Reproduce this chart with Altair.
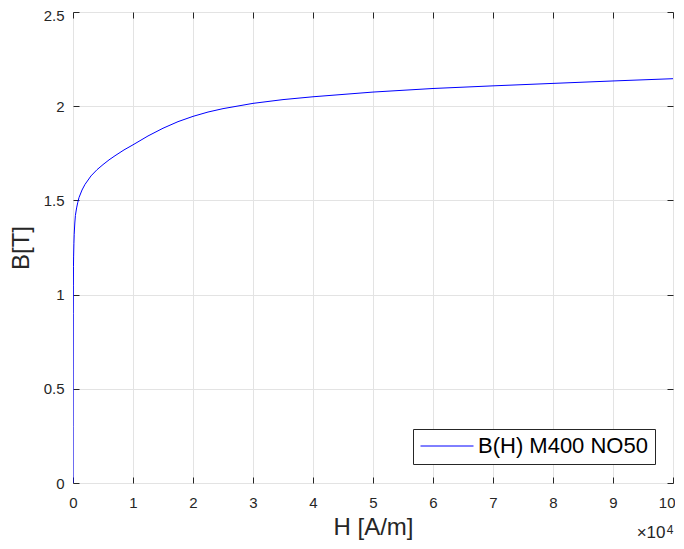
import altair as alt
import pandas as pd

H = [0, 10, 20, 40, 60, 80, 100, 150, 200, 300, 400, 600, 800, 1000, 1500, 2000,
     3000, 4000, 5000, 6000, 7000, 8500, 10000, 12500, 15000, 17500, 20000, 22500,
     25000, 30000, 35000, 40000, 50000, 60000, 70000, 80000, 90000, 100000]
B = [0, 0.3, 0.6, 0.9, 1.05, 1.15, 1.2, 1.27, 1.32, 1.38, 1.42, 1.46, 1.49, 1.515,
     1.555, 1.585, 1.63, 1.663, 1.69, 1.715, 1.737, 1.768, 1.795, 1.842, 1.883,
     1.918, 1.946, 1.969, 1.987, 2.015, 2.035, 2.05, 2.075, 2.094, 2.108, 2.121,
     2.134, 2.146]
series = ["B(H) M400 NO50"]
x_ticks = [0, 10000, 20000, 30000, 40000, 50000, 60000, 70000, 80000, 90000, 100000]
y_ticks = [0, 0.5, 1, 1.5, 2, 2.5]

df = pd.DataFrame({"H": H, "B": B, "name": series[0]})

FONT = "Liberation Sans"
AX = "#262626"
GRID = "#e3e3e3"

xscale = alt.Scale(domain=[0, 100000], nice=False, zero=False)
yscale = alt.Scale(domain=[0, 2.5], nice=False, zero=False)

base = alt.Chart(df)

main = base.mark_line(strokeWidth=1, clip=True).encode(
    x=alt.X("H:Q", scale=xscale, axis=alt.Axis(
        orient="bottom", values=x_ticks,
        labelExpr="datum.value >= 100000 ? '' : format(datum.value / 10000, '~g')",
        grid=True, gridColor=GRID, ticks=False, tickSize=0, domain=False,
        labelFlush=False,
        labelFont=FONT, labelFontSize=15, labelColor=AX, labelPadding=12,
        title="H [A/m]", titleFont=FONT, titleFontSize=24, titleFontWeight="normal",
        titleColor=AX, titleBaseline="middle", titleAlign="center",
        titleX=300, titleY=44)),
    y=alt.Y("B:Q", scale=yscale, axis=alt.Axis(
        orient="left", values=y_ticks, format="~g", grid=True, gridColor=GRID,
        ticks=False, tickSize=0, domain=False, labelFlush=False,
        labelOffset={"condition": {"test": "datum.value >= 2.5", "value": 3}, "value": 0},
        labelFont=FONT, labelFontSize=15, labelColor=AX, labelPadding=9,
        title="B[T]", titleFont=FONT, titleFontSize=24, titleFontWeight="normal",
        titleColor=AX, titleBaseline="middle", titleAlign="center",
        titleAngle=270, titleX=-52, titleY=235.5)),
    color=alt.Color("name:N", scale=alt.Scale(domain=series, range=["#0000ff"]),
        legend=alt.Legend(
            title=None, orient="none", legendX=340, legendY=417,
            symbolType="stroke", symbolSize=2809, symbolStrokeWidth=1,
            clipHeight=20, labelFont=FONT, labelFontSize=22, labelColor="black",
            labelLimit=400, labelOffset=4, padding=7, fillColor="white",
            strokeColor=AX, cornerRadius=0)),
)

ticks_bl = base.mark_line(opacity=0).encode(
    x=alt.X("H:Q", scale=xscale, axis=alt.Axis(
        orient="bottom", values=x_ticks, offset=-6, tickSize=6, tickColor=AX,
        tickWidth=1, labels=False, domain=False, grid=False,
        title="×10", titleFont=FONT, titleFontSize=17, titleFontWeight="normal",
        titleColor=AX, titleAlign="right", titleBaseline="middle",
        titleX=592, titleY=55)),
    y=alt.Y("B:Q", scale=yscale, axis=alt.Axis(
        orient="left", values=y_ticks, offset=-6, tickSize=6, tickColor=AX,
        tickWidth=1, labels=False, domain=False, grid=False, title=None)),
)

ticks_tr = base.mark_line(opacity=0).encode(
    x=alt.X("H:Q", scale=xscale, axis=alt.Axis(
        orient="top", values=x_ticks, offset=-6, tickSize=6, tickColor=AX,
        tickWidth=1, labels=False, domain=False, grid=False, title=None)),
    y=alt.Y("B:Q", scale=yscale, axis=alt.Axis(
        orient="right", values=y_ticks, offset=-6, tickSize=6, tickColor=AX,
        tickWidth=1, labels=False, domain=False, grid=False, title=None)),
)

# last x label ("10", flushed so it stays inside the page) and the exponent "4"
last_lbl = base.mark_line(opacity=0).encode(
    x=alt.X("H:Q", scale=xscale, axis=alt.Axis(
        orient="bottom", values=[100000], labelExpr="'10'", labelFlush=True,
        labelFlushOffset=2,
        ticks=False, tickSize=0, domain=False, grid=False,
        labelFont=FONT, labelFontSize=15, labelColor=AX, labelPadding=12,
        title="4", titleFont=FONT, titleFontSize=12, titleFontWeight="normal",
        titleColor=AX, titleAlign="right", titleBaseline="middle",
        titleX=600, titleY=46)),
)

chart = alt.layer(main, ticks_bl, ticks_tr, last_lbl).resolve_axis(
    x="independent", y="independent"
).properties(
    width=600, height=471,
    autosize=alt.AutoSizeParams(type="none"),
    padding={"left": 65, "top": 4, "right": 2, "bottom": 57},
).configure_view(stroke=AX, strokeWidth=1).configure(background="white")

chart.save("out.html", embed_options={"renderer": "svg", "actions": False})
